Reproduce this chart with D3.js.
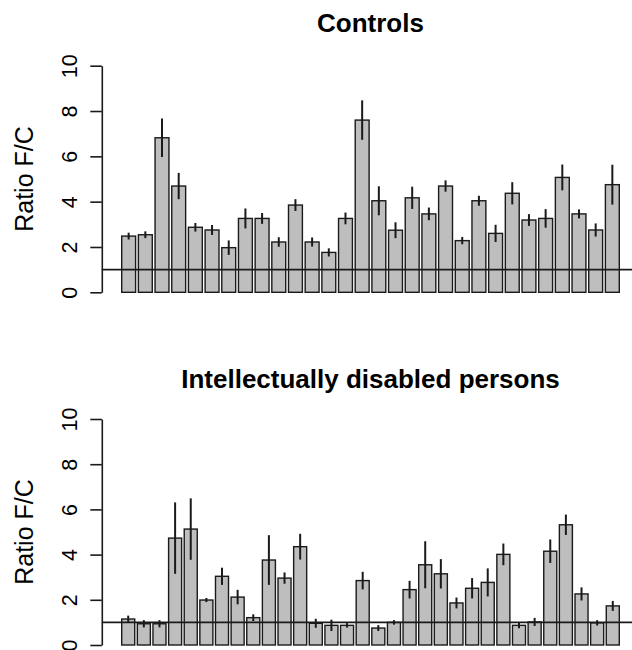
<!DOCTYPE html>
<html>
<head>
<meta charset="utf-8">
<script src="https://cdn.jsdelivr.net/npm/d3@7"></script>
<style>
  body { margin: 0; background: #fff; }
  text { font-family: "Liberation Sans", Arial, sans-serif; }
</style>
</head>
<body>
<script>
// Ratio F/C per person, with error half-widths
const controlMeans = [2.48, 2.54, 6.82, 4.69, 2.87, 2.75, 1.97, 3.26, 3.26, 2.22,
                      3.85, 2.22, 1.76, 3.26, 7.60, 4.04, 2.74, 4.17, 3.46, 4.69,
                      2.28, 4.04, 2.60, 4.37, 3.19, 3.26, 5.07, 3.46, 2.75, 4.75];
const controlErrors = [0.15, 0.15, 0.85, 0.58, 0.19, 0.22, 0.32, 0.44, 0.24, 0.21,
                       0.26, 0.20, 0.18, 0.26, 0.87, 0.64, 0.35, 0.49, 0.28, 0.25,
                       0.16, 0.22, 0.38, 0.49, 0.26, 0.41, 0.57, 0.20, 0.29, 0.88];
const disabledMeans = [1.15, 0.94, 0.94, 4.73, 5.13, 1.99, 3.04, 2.12, 1.21, 3.76,
                       2.96, 4.35, 0.96, 0.87, 0.87, 2.85, 0.75, 1.00, 2.45, 3.55,
                       3.15, 1.86, 2.51, 2.77, 4.01, 0.87, 1.02, 4.15, 5.32, 2.26,
                       0.98, 1.73];
const disabledErrors = [0.15, 0.16, 0.16, 1.58, 1.36, 0.09, 0.38, 0.32, 0.15, 1.10,
                        0.25, 0.57, 0.20, 0.25, 0.10, 0.39, 0.13, 0.10, 0.39, 1.04,
                        0.65, 0.24, 0.45, 0.62, 0.48, 0.13, 0.18, 0.52, 0.45, 0.29,
                        0.12, 0.22];
const yTicks = [0, 2, 4, 6, 8, 10];
const refLine = 1;
const titles = ["Controls", "Intellectually disabled persons"];
const yLabel = "Ratio F/C";

// Layout
const width = 632;
const height = 650;
const plotLeft = 101.8;
const plotRight = 639.2;
const barColor = "#bebebe";

const svg = d3.select("body").append("svg")
    .attr("width", width)
    .attr("height", height);

// One panel per group
const panels = [
  {title: titles[0], means: controlMeans, errors: controlErrors, y0: 292.3, y10: 65.7, titleY: 32},
  {title: titles[1], means: disabledMeans, errors: disabledErrors, y0: 645, y10: 419, titleY: 388}
];

panels.forEach(p => {
  const n = p.means.length;
  // barplot-style x: bars width 1, space 0.2, 4% padding on both sides
  const lo = 0.2, hi = n * 1.2;
  const pad = (hi - lo) * 0.04;
  const x = d3.scaleLinear().domain([lo - pad, hi + pad]).range([plotLeft, plotRight]);
  const y = d3.scaleLinear().domain([0, 10]).range([p.y0, p.y10]);

  const g = svg.append("g");

  // Bars
  g.append("g")
    .selectAll("rect")
    .data(p.means)
    .join("rect")
      .attr("x", (d, i) => x(i * 1.2 + 0.2))
      .attr("width", (d, i) => x(i * 1.2 + 1.2) - x(i * 1.2 + 0.2))
      .attr("y", d => y(d))
      .attr("height", d => y(0) - y(d))
      .attr("fill", barColor)
      .attr("stroke", "#1a1a1a")
      .attr("stroke-width", 1.4);

  // Error bars (no caps)
  g.append("g")
    .selectAll("line")
    .data(p.means)
    .join("line")
      .attr("x1", (d, i) => x(i * 1.2 + 0.7))
      .attr("x2", (d, i) => x(i * 1.2 + 0.7))
      .attr("y1", (d, i) => y(d + p.errors[i]))
      .attr("y2", (d, i) => y(d - p.errors[i]))
      .attr("stroke", "#1a1a1a")
      .attr("stroke-width", 2);

  // Reference line at ratio 1
  g.append("line")
    .attr("x1", plotLeft)
    .attr("x2", plotRight)
    .attr("y1", y(refLine))
    .attr("y2", y(refLine))
    .attr("stroke", "#1a1a1a")
    .attr("stroke-width", 1.6);

  // Y axis, labels parallel to the axis
  const axis = g.append("g")
    .attr("transform", `translate(${plotLeft},0)`)
    .call(d3.axisLeft(y).tickValues(yTicks).tickSize(11.5).tickSizeOuter(0).tickFormat(d3.format("d")));
  axis.select(".domain").attr("stroke", "#1a1a1a").attr("stroke-width", 1.6);
  axis.selectAll(".tick line").attr("stroke", "#1a1a1a").attr("stroke-width", 1.6);
  axis.selectAll(".tick text")
    .attr("x", null).attr("dy", null)
    .attr("transform", "translate(-24.5,0) rotate(-90)")
    .attr("text-anchor", "middle")
    .attr("font-size", 21.5)
    .attr("fill", "#000");

  // Axis title
  g.append("text")
    .attr("transform", `translate(33,${y(5)}) rotate(-90)`)
    .attr("text-anchor", "middle")
    .attr("font-size", 25)
    .text(yLabel);

  // Panel title
  g.append("text")
    .attr("x", (plotLeft + plotRight) / 2)
    .attr("y", p.titleY)
    .attr("text-anchor", "middle")
    .attr("font-size", 26)
    .attr("font-weight", "bold")
    .text(p.title);
});
</script>
</body>
</html>
